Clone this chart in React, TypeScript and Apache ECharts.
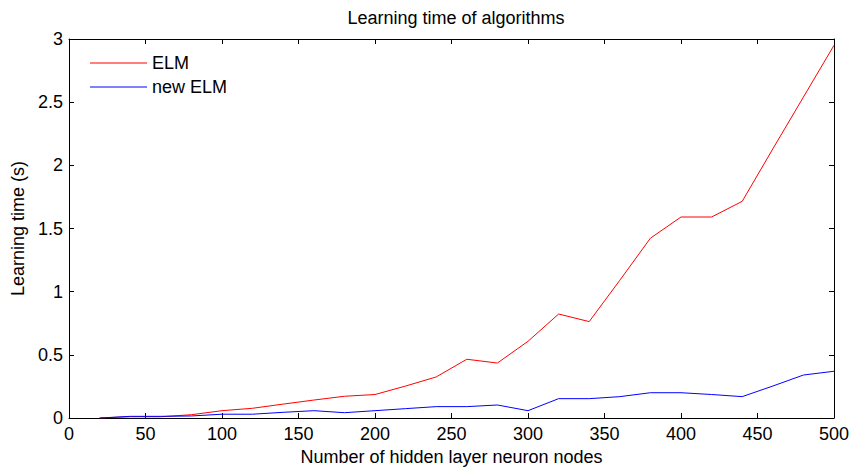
import React, { useEffect, useRef } from "react";
import * as echarts from "echarts";

const nodes = [20, 40, 60, 80, 100, 120, 140, 160, 180, 200, 220, 240, 260, 280, 300, 320, 340, 360, 380, 400, 420, 440, 460, 480, 500];
const elm = [0, 0.01, 0.01, 0.026, 0.058, 0.077, 0.11, 0.142, 0.172, 0.186, 0.253, 0.325, 0.465, 0.435, 0.607, 0.823, 0.763, 1.09, 1.423, 1.591, 1.591, 1.715, 2.13, 2.54, 2.95];
const newElm = [0, 0.013, 0.013, 0.016, 0.03, 0.03, 0.045, 0.058, 0.042, 0.058, 0.074, 0.09, 0.09, 0.103, 0.058, 0.153, 0.153, 0.169, 0.2, 0.2, 0.186, 0.169, 0.253, 0.34, 0.37];

const FONT = "Liberation Sans, Arial, Helvetica, sans-serif";

export default function App() {
  const ref = useRef<HTMLDivElement>(null);
  useEffect(() => {
    const chart = echarts.init(ref.current!, null, { renderer: "svg" });
    const axisCommon = {
      axisLine: { show: true, onZero: false, lineStyle: { color: "#000", width: 1 } },
      axisTick: { show: true, inside: true, length: 5, lineStyle: { color: "#000" } },
      splitLine: { show: false },
    };
    chart.setOption({
      animation: false,
      backgroundColor: "#fff",
      title: {
        text: "Learning time of algorithms",
        left: 451,
        textAlign: "center",
        top: 4,
        textStyle: { fontFamily: FONT, fontSize: 18, fontWeight: "normal", color: "#000" },
      },
      legend: {
        orient: "vertical",
        left: 85,
        top: 49,
        icon: "rect",
        itemWidth: 57,
        itemHeight: 1,
        itemGap: 6,
        textStyle: { fontFamily: FONT, fontSize: 18, lineHeight: 18, color: "#000" },
        data: ["ELM", "new ELM"],
      },
      grid: { left: 69, right: 19, top: 39, bottom: 53 },
      xAxis: [
        {
          type: "value",
          min: 0,
          max: 500,
          interval: 50,
          position: "bottom",
          name: "Number of hidden layer neuron nodes",
          nameLocation: "middle",
          nameGap: 30,
          nameTextStyle: { fontFamily: FONT, fontSize: 18, color: "#000" },
          axisLabel: { fontFamily: FONT, fontSize: 18, color: "#000", margin: 7 },
          ...axisCommon,
        },
        {
          type: "value",
          min: 0,
          max: 500,
          interval: 50,
          position: "top",
          axisLabel: { show: false },
          ...axisCommon,
        },
      ],
      yAxis: [
        {
          type: "value",
          min: 0,
          max: 3,
          interval: 0.5,
          position: "left",
          name: "Learning time (s)",
          nameLocation: "middle",
          nameGap: 38,
          nameTextStyle: { fontFamily: FONT, fontSize: 18, color: "#000" },
          axisLabel: { fontFamily: FONT, fontSize: 18, color: "#000", margin: 6 },
          ...axisCommon,
        },
        {
          type: "value",
          min: 0,
          max: 3,
          interval: 0.5,
          position: "right",
          axisLabel: { show: false },
          ...axisCommon,
        },
      ],
      series: [
        {
          name: "ELM",
          type: "line",
          symbol: "none",
          data: nodes.map((n, i) => [n, elm[i]]),
          lineStyle: { color: "#ff0000", width: 1 },
          itemStyle: { color: "#ff0000" },
        },
        {
          name: "new ELM",
          type: "line",
          symbol: "none",
          data: nodes.map((n, i) => [n, newElm[i]]),
          lineStyle: { color: "#0000ff", width: 1 },
          itemStyle: { color: "#0000ff" },
        },
      ],
    });
    return () => chart.dispose();
  }, []);
  return <div ref={ref} style={{ width: 853, height: 471, position: "fixed", left: 0, top: 0 }} />;
}
